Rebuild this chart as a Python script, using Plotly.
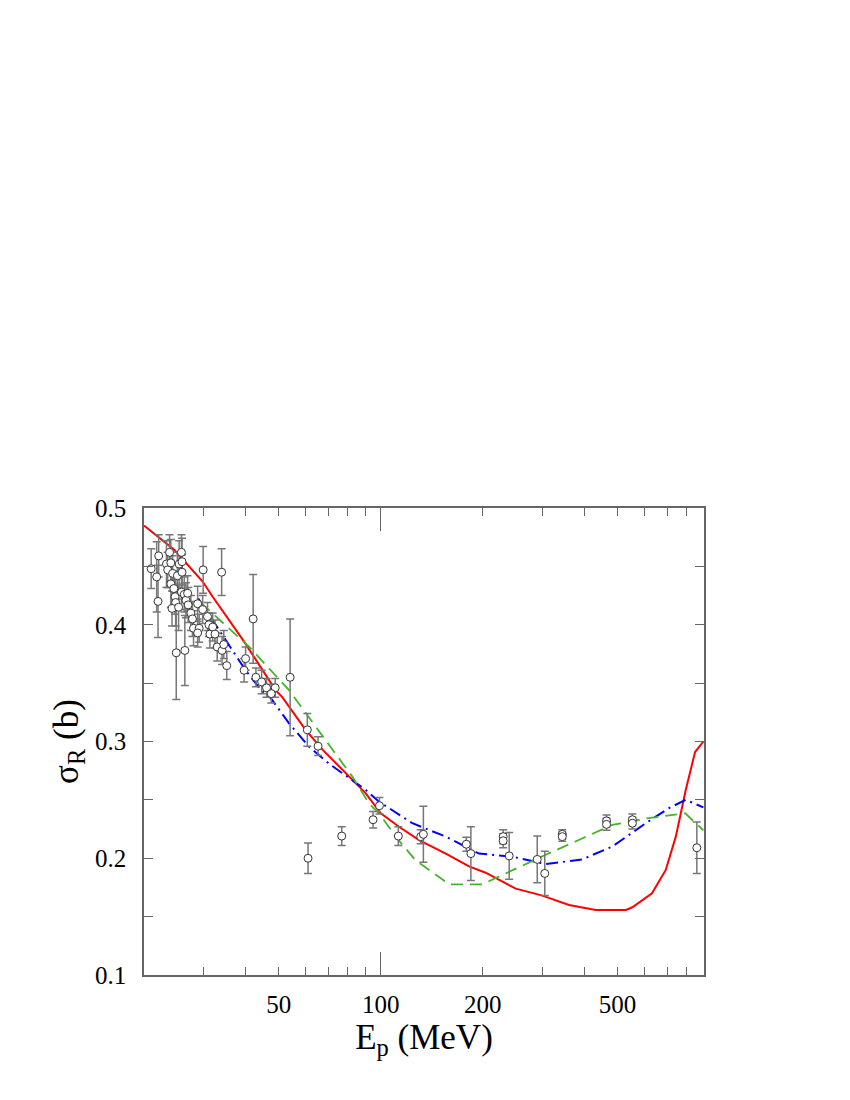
import numpy as np
import plotly.graph_objects as go

# measured reaction cross sections: energy (MeV), sigma_R (b), error (b)
exp_e = [21.0, 22.1, 21.8, 22.0, 23.3, 23.5, 24.0, 23.8, 24.3, 24.0, 24.5, 25.4,
         25.8, 25.9, 25.1, 25.9, 24.7, 24.8, 24.2, 24.9, 26.4, 25.3, 25.8, 26.3,
         26.6, 27.0, 26.9, 27.5, 27.8, 28.0, 29.1, 29.9, 33.9, 28.8, 28.8, 29.8,
         30.8, 31.1, 31.9, 31.3, 32.4, 32.9, 34.0, 34.4, 35.1, 39.5, 39.9, 42.0,
         42.8, 44.5, 46.0, 48.8, 47.5, 54.0, 60.7, 65.3, 61.0, 76.7, 94.9, 99.1,
         112.7, 131.2, 133.6, 178.9, 184.5, 229.8, 229.8, 239.4, 289.7, 304.9,
         343.5, 343.5, 464.0, 464.0, 553.2, 553.2, 857.2]
exp_sig = [0.448, 0.459, 0.441, 0.420, 0.452, 0.447, 0.453, 0.462, 0.444, 0.435, 0.431, 0.452,
           0.462, 0.454, 0.442, 0.445, 0.424, 0.419, 0.414, 0.376, 0.378, 0.415, 0.428, 0.426,
           0.421, 0.417, 0.427, 0.410, 0.405, 0.397, 0.397, 0.447, 0.445, 0.418, 0.393, 0.413,
           0.407, 0.400, 0.398, 0.392, 0.392, 0.381, 0.378, 0.383, 0.365, 0.361, 0.371, 0.405,
           0.355, 0.351, 0.346, 0.346, 0.341, 0.355, 0.310, 0.296, 0.200, 0.219, 0.233, 0.245,
           0.219, 0.2185, 0.2205, 0.212, 0.204, 0.2185, 0.215, 0.202, 0.199, 0.187,
           0.2205, 0.2185, 0.232, 0.229, 0.233, 0.230, 0.209]
exp_err = [0.017, 0.018, 0.030, 0.031, 0.020, 0.015, 0.020, 0.015, 0.015, 0.020, 0.015, 0.020,
           0.015, 0.020, 0.020, 0.015, 0.015, 0.020, 0.015, 0.040, 0.030, 0.020, 0.015, 0.015,
           0.015, 0.015, 0.015, 0.015, 0.015, 0.015, 0.012, 0.020, 0.020, 0.015, 0.012, 0.012,
           0.012, 0.010, 0.012, 0.012, 0.012, 0.012, 0.012, 0.012, 0.012, 0.010, 0.010, 0.038,
           0.008, 0.010, 0.008, 0.008, 0.008, 0.050, 0.014, 0.008, 0.013, 0.008, 0.007, 0.007,
           0.008, 0.006, 0.024, 0.006, 0.023, 0.006, 0.006, 0.020, 0.020, 0.019,
           0.004, 0.004, 0.005, 0.005, 0.005, 0.005, 0.022]

# red solid curve
red_e = [20.0, 24.6, 29.8, 31.9, 39.5, 48.9, 51.2, 60.0, 67.3, 77.0, 90.3, 100.0,
         113.2, 129.7, 155.6, 182.2, 204.0, 250.3, 300.0, 359.5, 431.0, 529.0, 553.0,
         632.0, 694.0, 743.0, 795.0, 847.0, 896.0]
red_sig = [0.485, 0.464, 0.437, 0.424, 0.3855, 0.344, 0.338, 0.310, 0.293, 0.2756, 0.2556, 0.2385,
           0.227, 0.2156, 0.204, 0.193, 0.1876, 0.174, 0.168, 0.160, 0.1557, 0.1557, 0.158,
           0.170, 0.190, 0.2185, 0.2585, 0.291, 0.300]

# blue dash-dot curve
blue_e = [28.9, 34.1, 39.9, 44.3, 47.4, 53.6, 61.4, 70.4, 82.4, 90.3, 98.8, 124.0,
          155.6, 195.0, 245.0, 307.0, 393.0, 482.0, 606.0, 710.0, 795.0, 896.0]
blue_sig = [0.4226, 0.391, 0.361, 0.344, 0.337, 0.3156, 0.2956, 0.281, 0.267, 0.2585, 0.2485, 0.230,
            0.2185, 0.204, 0.2013, 0.195, 0.199, 0.210, 0.230, 0.243, 0.250, 0.2436]

# green dashed curve
green_e = [29.4, 40.9, 53.6, 61.4, 70.4, 82.4, 92.3, 98.8, 110.7, 126.4, 159.1, 199.5,
           244.7, 307.0, 384.0, 482.0, 606.0, 792.0, 896.0]
green_sig = [0.419, 0.381, 0.344, 0.321, 0.297, 0.270, 0.247, 0.2385, 0.2185, 0.1985, 0.1777, 0.1777,
             0.190, 0.203, 0.2156, 0.2285, 0.234, 0.2385, 0.224]

x_tickvals = [50, 100, 200, 500]
x_minorvals = [30, 40, 60, 70, 80, 90, 300, 400, 600, 700, 800]
y_tickvals = [0.1, 0.2, 0.3, 0.4, 0.5]
y_minorvals = [0.15, 0.25, 0.35, 0.45]

FONT = "Liberation Serif"
AX = "#666666"

fig = go.Figure()

fig.add_trace(go.Scatter(
    x=red_e, y=red_sig, mode="lines",
    line=dict(color="#ff0000", width=2),
))
fig.add_trace(go.Scatter(
    x=blue_e, y=blue_sig, mode="lines",
    line=dict(color="#0000ff", width=2, dash="12px,5px,2px,5px"),
))
fig.add_trace(go.Scatter(
    x=green_e, y=green_sig, mode="lines",
    line=dict(color="#44b52a", width=1.8, dash="12px,7px"),
))
fig.add_trace(go.Scatter(
    x=exp_e, y=exp_sig, mode="markers",
    marker=dict(symbol="circle", size=8, color="white",
                line=dict(color="#333333", width=1)),
    error_y=dict(type="data", array=exp_err, visible=True,
                 color="#777777", thickness=1.5, width=4),
))
# long tick at 100 MeV (top and bottom)
fig.add_trace(go.Scatter(x=[100], y=[None], xaxis="x2", showlegend=False))

fig.update_layout(
    width=842,
    height=1092,
    margin=dict(l=136, r=146, t=500, b=125),
    paper_bgcolor="white",
    plot_bgcolor="white",
    showlegend=False,
    font=dict(family=FONT, size=25, color="black"),
    xaxis=dict(
        type="log",
        range=[np.log10(20), np.log10(900)],
        tickmode="array",
        tickvals=x_tickvals,
        ticks="inside",
        ticklen=8,
        tickwidth=1,
        tickcolor=AX,
        minor=dict(tickmode="array", tickvals=x_minorvals, ticks="inside",
                   ticklen=8, tickcolor=AX, showgrid=False),
        showline=True,
        linecolor=AX,
        linewidth=1.5,
        mirror="allticks",
        showgrid=False,
        zeroline=False,
        ticklabelstandoff=6,
        title=dict(text="E<sub>p</sub> (MeV)", font=dict(size=35), standoff=4),
    ),
    xaxis2=dict(
        type="log",
        range=[np.log10(20), np.log10(900)],
        overlaying="x",
        anchor="y",
        side="bottom",
        tickmode="array",
        tickvals=[100],
        showticklabels=False,
        ticks="inside",
        ticklen=23,
        tickwidth=1,
        tickcolor=AX,
        mirror="allticks",
        showline=False,
        showgrid=False,
        zeroline=False,
    ),
    yaxis=dict(
        range=[0.1, 0.5],
        tickmode="array",
        tickvals=y_tickvals,
        tickformat=".1f",
        ticks="inside",
        ticklen=9,
        tickwidth=1,
        tickcolor=AX,
        minor=dict(tickmode="array", tickvals=y_minorvals, ticks="inside",
                   ticklen=5, tickcolor=AX, showgrid=False),
        showline=True,
        linecolor=AX,
        linewidth=1.5,
        mirror="allticks",
        showgrid=False,
        zeroline=False,
        ticklabelstandoff=11,
        title=dict(text="σ<sub>R</sub> (b)", font=dict(size=35), standoff=6),
    ),
)

fig.write_html("out.html")
